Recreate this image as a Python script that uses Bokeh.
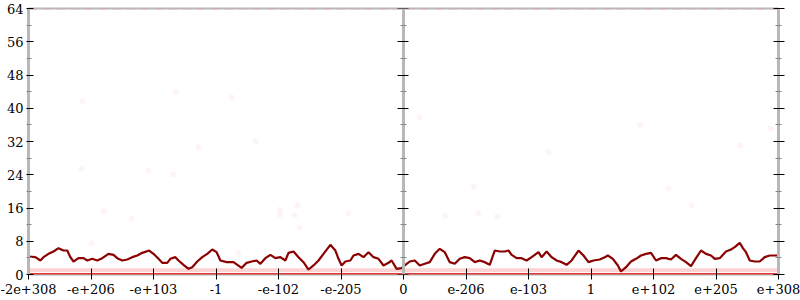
from bokeh.plotting import figure
from bokeh.models import LinearAxis, Range1d, FixedTicker
from bokeh.embed import file_html
from bokeh.resources import INLINE

# ---- data ----
x_tick_positions = [-6, -5, -4, -3, -2, -1, 0, 1, 2, 3, 4, 5, 6]
x_tick_labels = ["-2e+308", "-e+206", "-e+103", "-1", "-e-102", "-e-205", "0",
                 "e-206", "e-103", "1", "e+102", "e+205", "e+308"]
y_major_ticks = [0, 8, 16, 24, 32, 40, 48, 56, 64]
y_minor_ticks = [4, 12, 20, 28, 36, 44, 52, 60]

rolling_x = [-6.00, -5.89, -5.81, -5.76, -5.68, -5.60, -5.52, -5.44, -5.38, -5.33, -5.28, -5.20, -5.12, -5.06,
             -4.98, -4.90, -4.82, -4.72, -4.64, -4.58, -4.50, -4.42, -4.34, -4.26, -4.18, -4.07, -4.00, -3.92,
             -3.86, -3.78, -3.73, -3.65, -3.60, -3.52, -3.44, -3.38, -3.30, -3.22, -3.14, -3.06, -2.99, -2.93,
             -2.83, -2.72, -2.59, -2.51, -2.43, -2.35, -2.29, -2.21, -2.13, -2.05, -1.97, -1.89, -1.84, -1.76,
             -1.68, -1.60, -1.52, -1.44, -1.36, -1.28, -1.17, -1.09, -1.04, -0.99, -0.93, -0.85, -0.80, -0.72,
             -0.64, -0.56, -0.48, -0.40, -0.32, -0.24, -0.19, -0.11, -0.03, 0.02, 0.10, 0.18, 0.26, 0.34, 0.42,
             0.50, 0.58, 0.66, 0.74, 0.82, 0.90, 0.98, 1.06, 1.14, 1.22, 1.30, 1.38, 1.46, 1.54, 1.62, 1.68,
             1.73, 1.81, 1.89, 1.97, 2.05, 2.16, 2.21, 2.29, 2.37, 2.45, 2.53, 2.61, 2.69, 2.80, 2.88, 2.96,
             3.04, 3.14, 3.22, 3.27, 3.35, 3.43, 3.48, 3.56, 3.64, 3.72, 3.80, 3.88, 3.96, 4.04, 4.12, 4.20,
             4.28, 4.36, 4.44, 4.52, 4.60, 4.68, 4.76, 4.84, 4.92, 4.98, 5.06, 5.16, 5.24, 5.30, 5.38, 5.43,
             5.48, 5.54, 5.62, 5.70, 5.78, 5.86, 6.00]
rolling_y = [4.33, 4.17, 3.37, 4.17, 4.97, 5.53, 6.34, 5.77, 5.77, 4.17, 3.13, 3.93, 3.93, 3.37,
             3.77, 3.37, 3.93, 4.97, 4.73, 3.93, 3.37, 3.61, 4.17, 4.57, 5.21, 5.77, 4.97, 3.77,
             2.81, 2.81, 3.77, 4.17, 3.37, 2.33, 1.36, 1.76, 3.13, 4.17, 4.97, 6.02, 5.37, 3.37,
             2.97, 2.97, 1.60, 2.81, 3.13, 3.37, 2.57, 3.93, 4.73, 3.93, 4.17, 3.37, 5.21, 5.53,
             4.17, 2.97, 1.20, 2.17, 3.37, 4.97, 7.14, 5.77, 3.77, 2.17, 3.13, 3.37, 4.57, 4.97,
             4.17, 5.37, 4.17, 3.77, 2.17, 2.81, 3.37, 1.36, 1.52, 2.17, 3.13, 3.37, 2.17, 2.57, 2.97,
             4.97, 6.18, 5.37, 2.97, 2.57, 3.77, 4.17, 3.93, 2.97, 3.37, 2.97, 2.33, 5.77, 5.53, 5.53, 5.77,
             4.73, 3.93, 3.93, 3.37, 4.17, 5.37, 4.17, 5.53, 4.17, 3.37, 2.97, 2.33, 3.37, 5.77, 4.57, 2.97,
             3.37, 3.61, 4.17, 4.57, 3.77, 2.17, 0.72, 1.76, 3.13, 3.77, 4.57, 4.97, 5.21, 3.37, 3.93, 3.93,
             3.61, 4.73, 3.77, 2.97, 2.00, 3.93, 5.77, 4.97, 4.57, 3.77, 3.93, 5.53, 6.02, 6.58, 7.62, 6.34,
             5.37, 3.37, 3.13, 3.13, 4.17, 4.57, 4.57]

sparse_x = [-5.14, -3.65, -3.28, -5.15, -4.08, -3.68, -4.80, -4.35, -4.99, -1.70, -1.98, -1.98, -1.74,
            -0.88, -1.66, -2.64, 1.20, 1.50, 4.61, 0.26, -2.37, -2.75, 1.12, 2.32, 3.79, 4.24, 5.39,
            5.87, 0.67]
sparse_y = [41.6, 44.0, 30.6, 25.5, 25.0, 24.1, 15.2, 13.5, 7.5, 16.6, 15.6, 14.4, 14.2,
            14.7, 11.3, 5.1, 14.7, 14.0, 16.6, 37.8, 32.0, 42.6, 21.2, 29.4, 35.9, 20.7, 31.0,
            35.1, 14.2]

band_x = [-6, 6]
zero_level = [0, 0]
one_level = [1, 1]
top_level = [64, 64]

# ---- style ----
FONT = "DejaVu Serif"
AXIS_GRAY = "#b8b8b8"

p = figure(width=800, height=300, x_range=Range1d(-6, 6), y_range=Range1d(0, 64),
           output_backend="svg", toolbar_location=None,
           min_border_left=28, min_border_right=22, min_border_top=8, min_border_bottom=26)
p.background_fill_color = "white"
p.border_fill_color = "white"
p.outline_line_color = AXIS_GRAY
p.outline_line_width = 2
p.xgrid.visible = False
p.ygrid.visible = False

# bands of samples
p.line(band_x, one_level, line_color="#f08080", line_alpha=0.35, line_width=4)
p.line(band_x, zero_level, line_color="#e0282a", line_alpha=0.9, line_width=3)
p.line(band_x, top_level, line_color="#f2a0a0", line_alpha=0.35, line_width=3, line_dash="8 6")

# sparse samples
p.scatter(sparse_x, sparse_y, size=6, fill_color="#ff7070", fill_alpha=0.08, line_color=None)

# rolling line
p.line(rolling_x, rolling_y, line_color="#8b0000", line_width=2.2)

# x axis
xa = p.xaxis[0]
xa.ticker = FixedTicker(ticks=x_tick_positions)
xa.major_label_overrides = {t: l for t, l in zip(x_tick_positions, x_tick_labels)}
xa.axis_line_color = None
xa.major_tick_line_color = "black"
xa.major_tick_in = 6
xa.major_tick_out = 5
xa.minor_tick_line_color = None
xa.major_label_standoff = 4
xa.major_label_text_font = FONT
xa.major_label_text_font_size = "13px"
xa.major_label_text_color = "black"


def style_y(ax, tin, tout, mtin, mtout):
    ax.ticker = FixedTicker(ticks=y_major_ticks, minor_ticks=y_minor_ticks)
    ax.axis_line_color = AXIS_GRAY
    ax.axis_line_width = 3
    ax.major_tick_line_color = "black"
    ax.major_tick_in = tin
    ax.major_tick_out = tout
    ax.minor_tick_line_color = "#888888"
    ax.minor_tick_in = mtin
    ax.minor_tick_out = mtout
    ax.major_label_text_font = FONT
    ax.major_label_text_font_size = "13px"
    ax.major_label_text_color = "black"


ya = p.yaxis[0]
style_y(ya, 5, 2, 3, 2)
ya.major_label_standoff = 3

mid = LinearAxis(fixed_location=0)
style_y(mid, 5, 6, 3, 3)
mid.major_label_overrides = {t: "" for t in y_major_ticks}
mid.major_label_standoff = 0
p.add_layout(mid, "left")

ra = LinearAxis()
style_y(ra, 5, 6, 3, 3)
ra.major_label_overrides = {t: "" for t in y_major_ticks}
ra.major_label_standoff = 0
p.add_layout(ra, "right")

open("out.html", "w").write(file_html(p, INLINE))
